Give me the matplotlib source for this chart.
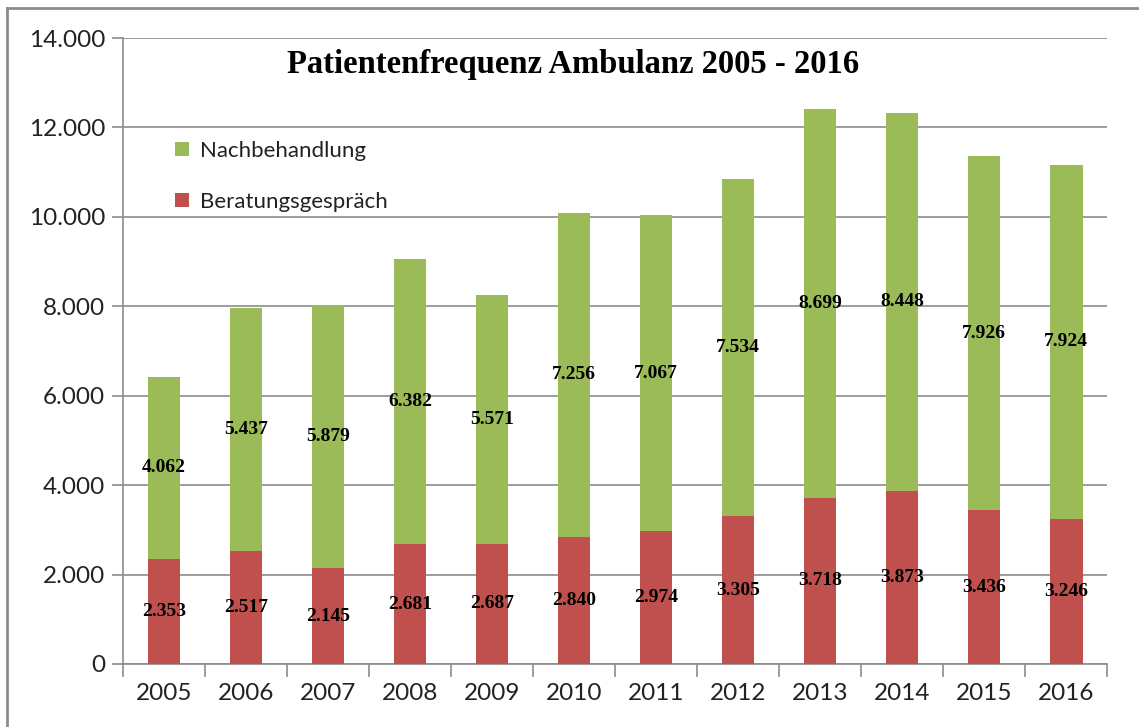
import numpy as np
import matplotlib.pyplot as plt
from matplotlib.lines import Line2D
from matplotlib.ticker import FuncFormatter, FixedLocator

years = ["2005", "2006", "2007", "2008", "2009", "2010",
         "2011", "2012", "2013", "2014", "2015", "2016"]
beratung = [2353, 2517, 2145, 2681, 2687, 2840, 2974, 3305, 3718, 3873, 3436, 3246]
nachbeh = [4062, 5437, 5879, 6382, 5571, 7256, 7067, 7534, 8699, 8448, 7926, 7924]

red = "#C0504D"
green = "#9BBB59"
grid_col = "#8C8C8C"
sans = ["Lato", "DejaVu Sans"]
serif = ["Liberation Serif", "DejaVu Serif"]


def de_fmt(v, pos=None):
    return f"{int(v):,}".replace(",", ".")


fig = plt.figure(figsize=(11.39, 7.27), dpi=100)
ax = fig.add_axes([0.108, 0.0867, 0.864, 0.861])

x = np.arange(len(years))
b1 = ax.bar(x, beratung, width=0.4, color=red, label="Beratungsgespräch", zorder=3)
b2 = ax.bar(x, nachbeh, width=0.4, bottom=beratung, color=green,
            label="Nachbehandlung", zorder=3)

# value labels in the middle of each segment
for i in range(len(years)):
    ax.text(x[i], beratung[i] / 2, de_fmt(beratung[i]), ha="center", va="center",
            fontsize=14, fontweight="bold", family=serif, zorder=4)
    ax.text(x[i], beratung[i] + nachbeh[i] / 2, de_fmt(nachbeh[i]), ha="center",
            va="center", fontsize=14, fontweight="bold", family=serif, zorder=4)

ax.set_xlim(-0.5, len(years) - 0.5)
ax.set_ylim(0, 14000)
ax.set_yticks(range(0, 14001, 2000))
ax.yaxis.set_major_formatter(FuncFormatter(de_fmt))
ax.set_xticks(x)
ax.set_xticklabels(years)
ax.xaxis.set_minor_locator(FixedLocator(np.arange(-0.5, len(years), 1)))
ax.tick_params(axis="x", which="major", length=0, pad=14)
ax.tick_params(axis="x", which="minor", length=9, color=grid_col, width=1.2)
ax.tick_params(axis="y", length=8, color=grid_col, width=1.2, pad=5)
for lab in ax.get_xticklabels() + ax.get_yticklabels():
    lab.set_family(sans)
    lab.set_fontsize(17.5)
    lab.set_color("#222222")

ax.grid(axis="y", color=grid_col, linewidth=1.2, zorder=0)
for s in ["top", "right"]:
    ax.spines[s].set_visible(False)
ax.spines["left"].set_color(grid_col)
ax.spines["bottom"].set_color(grid_col)
ax.spines["left"].set_linewidth(1.2)
ax.spines["bottom"].set_linewidth(1.2)

ax.text(0.457, 0.983, "Patientenfrequenz Ambulanz 2005 - 2016", transform=ax.transAxes,
        ha="center", va="top", fontsize=23.5, fontweight="bold", family=serif)

leg = ax.legend(handles=[b2, b1], loc="upper left", bbox_to_anchor=(0.033, 0.868),
                frameon=False, prop={"family": sans, "size": 16},
                labelspacing=1.4, handlelength=0.6, handleheight=0.6,
                handletextpad=0.5)
for t in leg.get_texts():
    t.set_color("#222222")

# outer chart border
fig.add_artist(Line2D([7 / 1139, 7 / 1139], [0, 1 - 8 / 727],
                      transform=fig.transFigure, color="#8C8C8C", linewidth=2))
fig.add_artist(Line2D([7 / 1139, 1], [1 - 8 / 727, 1 - 8 / 727],
                      transform=fig.transFigure, color="#8C8C8C", linewidth=2))

fig.savefig("out.png", dpi=100)
